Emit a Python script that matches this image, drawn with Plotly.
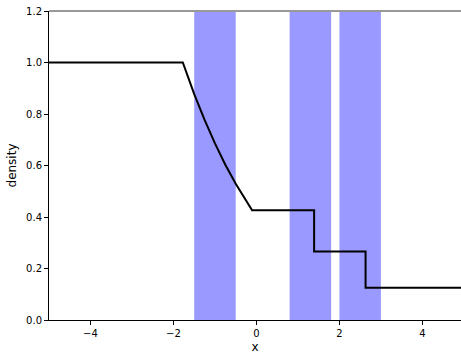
import plotly.graph_objects as go

# density profile
x_vals = [-5.0, -1.775, -1.5, -1.25, -1.0, -0.75, -0.5, -0.25, -0.105, 1.39, 1.39, 2.63, 2.63, 5.0]
rho_vals = [1.0, 1.0, 0.877, 0.777, 0.686, 0.603, 0.529, 0.462, 0.426, 0.426, 0.266, 0.266, 0.125, 0.125]

# shaded bands
band_starts = [-1.5, 0.8, 2.0]
band_ends = [-0.5, 1.8, 3.0]

x_ticks = [-4, -2, 0, 2, 4]
y_ticks = [0.0, 0.2, 0.4, 0.6, 0.8, 1.0, 1.2]

fig = go.Figure()

shapes = []
for a, b in zip(band_starts, band_ends):
    shapes.append(dict(type="rect", xref="x", yref="paper", x0=a, x1=b, y0=0, y1=1,
                       fillcolor="rgba(0,0,255,0.4)", line=dict(width=0), layer="below"))
shapes.append(dict(type="line", xref="paper", yref="paper", x0=0, x1=1.01, y0=1, y1=1,
                   line=dict(color="#999999", width=2)))

fig.add_trace(go.Scatter(x=x_vals, y=rho_vals, mode="lines",
                         line=dict(color="black", width=2), showlegend=False))

fig.update_layout(
    width=461, height=354,
    margin=dict(l=49, r=0, t=11, b=34),
    plot_bgcolor="white", paper_bgcolor="white",
    font=dict(family="DejaVu Sans", size=10, color="black"),
    shapes=shapes,
    xaxis=dict(range=[-5, 4.93], tickvals=x_ticks, ticks="outside", ticklen=4,
               tickcolor="black", showline=True, linecolor="black", linewidth=1,
               showgrid=False, zeroline=False, title=dict(text="x", standoff=4)),
    yaxis=dict(range=[0, 1.2], tickvals=y_ticks, tickformat=".1f", ticks="outside", ticklen=4,
               tickcolor="black", showline=True, linecolor="black", linewidth=1,
               showgrid=False, zeroline=False, title=dict(text="density", standoff=6)),
)

fig.write_html("out.html")
